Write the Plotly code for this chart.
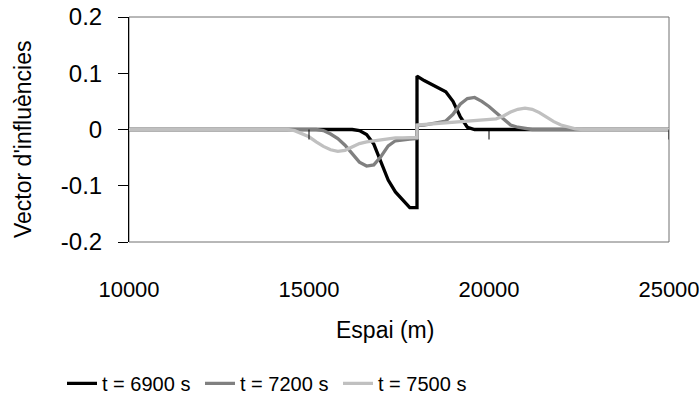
import plotly.graph_objects as go

# ---- data ----
x_6900 = [10000, 16200, 16400, 16600, 16800, 17000, 17200, 17400, 17600, 17800, 18000,
          18000, 18200, 18400, 18600, 18800, 19000, 19200, 19400, 19600, 25000]
y_6900 = [0, 0, -0.002, -0.009, -0.026, -0.060, -0.090, -0.111, -0.126, -0.139, -0.139,
          0.095, 0.087, 0.080, 0.074, 0.067, 0.050, 0.023, 0.004, 0, 0]

x_7200 = [10000, 15200, 15400, 15600, 15800, 16000, 16200, 16400, 16600, 16800, 17000,
          17200, 17400, 17600, 17800, 18000, 18000, 18200, 18400, 18600, 18800, 19000,
          19200, 19400, 19600, 19800, 20000, 20200, 20400, 20600, 20800, 21000, 21200, 25000]
y_7200 = [0, 0, -0.002, -0.008, -0.016, -0.028, -0.043, -0.058, -0.065, -0.063, -0.048,
          -0.029, -0.020, -0.018, -0.017, -0.016, 0.007, 0.008, 0.010, 0.013, 0.015, 0.027,
          0.045, 0.055, 0.057, 0.050, 0.041, 0.030, 0.018, 0.008, 0.004, 0.002, 0, 0]

x_7500 = [10000, 14400, 14600, 14800, 15000, 15200, 15400, 15600, 15800, 16000, 16200,
          16400, 16600, 16800, 17000, 17200, 17400, 17600, 17800, 18000, 18000, 18200,
          18400, 18600, 18800, 19000, 19200, 19400, 19600, 19800, 20000, 20200, 20400,
          20600, 20800, 21000, 21200, 21400, 21600, 21800, 22000, 22200, 22400, 22600, 25000]
y_7500 = [0, 0, -0.002, -0.007, -0.013, -0.022, -0.030, -0.036, -0.039, -0.037, -0.031,
          -0.025, -0.022, -0.020, -0.018, -0.016, -0.015, -0.015, -0.014, -0.014, 0.008, 0.009,
          0.010, 0.011, 0.012, 0.013, 0.014, 0.016, 0.017, 0.018, 0.018, 0.019, 0.024,
          0.031, 0.036, 0.038, 0.036, 0.030, 0.022, 0.014, 0.008, 0.004, 0.001, 0, 0]

series_names = ["t = 6900 s", "t = 7200 s", "t = 7500 s"]
series_colors = ["#000000", "#808080", "#c0c0c0"]

x_ticks = [10000, 15000, 20000, 25000]
x_ticktext = ["10000", "15000", "20000", "25000"]
y_ticks = [-0.2, -0.1, 0, 0.1, 0.2]
y_ticktext = ["-0.2", "-0.1", "0", "0.1", "0.2"]

FONT = "Liberation Sans, Arial, sans-serif"

fig = go.Figure()
for xs, ys, name, col in zip([x_6900, x_7200, x_7500], [y_6900, y_7200, y_7500],
                             series_names, series_colors):
    fig.add_trace(go.Scatter(x=xs, y=ys, mode="lines", name=name,
                             line=dict(color=col, width=3.3)))

shapes = [dict(type="rect", xref="paper", yref="paper", x0=0, x1=1, y0=0, y1=1,
               line=dict(color="#707070", width=1), layer="below")]
for t in x_ticks[1:]:
    shapes.append(dict(type="line", xref="x", yref="y", ysizemode="pixel", yanchor=0,
                       x0=t, x1=t, y0=0, y1=-10, line=dict(color="black", width=1)))

fig.update_layout(
    width=699, height=416,
    margin=dict(l=129, r=30, t=17, b=174, autoexpand=False),
    paper_bgcolor="white", plot_bgcolor="white",
    font=dict(family=FONT, size=24, color="black"),
    showlegend=True,
    legend=dict(orientation="h", x=(62 - 129) / 540, xanchor="left", xref="paper",
                y=-0.628, yanchor="middle", entrywidth=93, entrywidthmode="pixels",
                font=dict(size=20), bgcolor="rgba(0,0,0,0)", tracegroupgap=0),
    shapes=shapes,
    annotations=[
        dict(text="Vector d'influències", xref="paper", yref="paper", x=-0.196, y=0.454,
             xanchor="center", yanchor="middle", textangle=-90, showarrow=False,
             font=dict(size=23)),
        dict(text="Espai (m)", xref="paper", yref="paper", x=0.474, y=-0.392,
             xanchor="center", yanchor="middle", showarrow=False, font=dict(size=23)),
    ],
)
fig.update_xaxes(range=[10000, 25000], tickvals=x_ticks, ticktext=x_ticktext,
                 showgrid=False, zeroline=False, showline=False, ticks="",
                 ticklabelstandoff=32, automargin=False, tickangle=0,
                 ticklabeloverflow="allow", tickfont=dict(size=22))
fig.update_yaxes(range=[-0.2, 0.2], tickvals=y_ticks, ticktext=y_ticktext,
                 showgrid=False, zeroline=True, zerolinecolor="black", zerolinewidth=1,
                 showline=True, linecolor="black", linewidth=1, automargin=False,
                 ticks="outside", ticklen=10, tickcolor="black", ticklabelstandoff=11)

fig.write_html("out.html", config={"displayModeBar": False},
               post_script="document.body.style.margin='0';document.body.style.overflow='hidden';")
